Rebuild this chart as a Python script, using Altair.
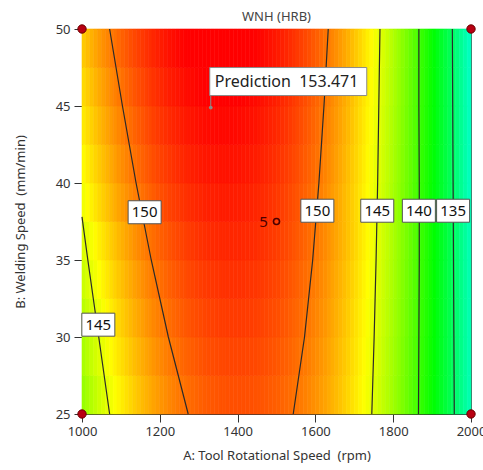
import altair as alt
import pandas as pd

# ---------------- data ----------------
# WNH (HRB) estimated on a 10 rpm x 2.5 mm/min grid (cell centres)
A_CENTERS = list(range(1005, 2000, 10))
B_ROWS = [26.25, 28.75, 31.25, 33.75, 36.25, 38.75, 41.25, 43.75, 46.25, 48.75]

WNH_R01 = [142.68, 143.10, 143.51, 143.91, 144.30, 144.67, 145.04, 145.40, 145.74, 146.08,
           146.40, 146.72, 147.02, 147.31, 147.59, 147.87, 148.13, 148.38, 148.62, 148.84,
           149.06, 149.27, 149.47, 149.65, 149.83, 149.99, 150.15, 150.29, 150.42, 150.55,
           150.66, 150.76, 150.85, 150.93, 151.00, 151.06, 151.10, 151.14, 151.17, 151.18,
           151.19, 151.18, 151.17, 151.14, 151.10, 151.06, 151.00, 150.93, 150.85, 150.76,
           150.66, 150.55, 150.42, 150.29, 150.15, 149.99, 149.83, 149.65, 149.47, 149.27,
           149.06, 148.84, 148.62, 148.38, 148.13, 147.87, 147.59, 147.31, 147.02, 146.72,
           146.40, 146.08, 145.74, 145.40, 145.04, 144.67, 144.30, 143.91, 143.51, 143.10,
           142.68, 142.25, 141.81, 141.35, 140.89, 140.42, 139.93, 139.44, 138.93, 138.42,
           137.89, 137.35, 136.80, 136.25, 135.68, 135.10, 134.51, 133.91, 133.29, 132.67]
WNH_R02 = [143.20, 143.61, 144.02, 144.41, 144.80, 145.17, 145.53, 145.88, 146.22, 146.55,
           146.87, 147.18, 147.48, 147.76, 148.04, 148.31, 148.56, 148.81, 149.04, 149.26,
           149.48, 149.68, 149.87, 150.05, 150.22, 150.38, 150.53, 150.67, 150.80, 150.91,
           151.02, 151.12, 151.20, 151.28, 151.34, 151.39, 151.43, 151.47, 151.49, 151.50,
           151.50, 151.49, 151.47, 151.43, 151.39, 151.34, 151.28, 151.20, 151.12, 151.02,
           150.91, 150.80, 150.67, 150.53, 150.38, 150.22, 150.05, 149.87, 149.68, 149.48,
           149.26, 149.04, 148.81, 148.56, 148.31, 148.04, 147.76, 147.48, 147.18, 146.87,
           146.55, 146.22, 145.88, 145.53, 145.17, 144.80, 144.41, 144.02, 143.61, 143.20,
           142.77, 142.34, 141.89, 141.43, 140.97, 140.49, 140.00, 139.50, 138.99, 138.46,
           137.93, 137.39, 136.84, 136.27, 135.70, 135.11, 134.52, 133.91, 133.29, 132.67]
WNH_R03 = [143.72, 144.13, 144.53, 144.92, 145.29, 145.66, 146.02, 146.36, 146.70, 147.02,
           147.34, 147.64, 147.93, 148.21, 148.49, 148.75, 149.00, 149.24, 149.46, 149.68,
           149.89, 150.09, 150.27, 150.45, 150.61, 150.77, 150.91, 151.04, 151.17, 151.28,
           151.38, 151.47, 151.55, 151.62, 151.68, 151.72, 151.76, 151.79, 151.80, 151.81,
           151.80, 151.79, 151.76, 151.72, 151.68, 151.62, 151.55, 151.47, 151.38, 151.28,
           151.17, 151.04, 150.91, 150.77, 150.61, 150.45, 150.27, 150.09, 149.89, 149.68,
           149.46, 149.24, 149.00, 148.75, 148.49, 148.21, 147.93, 147.64, 147.34, 147.02,
           146.70, 146.36, 146.02, 145.66, 145.29, 144.92, 144.53, 144.13, 143.72, 143.30,
           142.87, 142.43, 141.97, 141.51, 141.04, 140.55, 140.06, 139.55, 139.04, 138.51,
           137.97, 137.42, 136.87, 136.30, 135.72, 135.13, 134.53, 133.91, 133.29, 132.66]
WNH_R04 = [144.23, 144.64, 145.03, 145.42, 145.79, 146.15, 146.50, 146.84, 147.17, 147.49,
           147.80, 148.10, 148.38, 148.66, 148.93, 149.18, 149.43, 149.66, 149.88, 150.10,
           150.30, 150.49, 150.67, 150.84, 151.00, 151.15, 151.29, 151.42, 151.53, 151.64,
           151.74, 151.82, 151.90, 151.96, 152.01, 152.05, 152.09, 152.11, 152.12, 152.12,
           152.11, 152.09, 152.05, 152.01, 151.96, 151.90, 151.82, 151.74, 151.64, 151.53,
           151.42, 151.29, 151.15, 151.00, 150.84, 150.67, 150.49, 150.30, 150.10, 149.88,
           149.66, 149.43, 149.18, 148.93, 148.66, 148.38, 148.10, 147.80, 147.49, 147.17,
           146.84, 146.50, 146.15, 145.79, 145.42, 145.03, 144.64, 144.23, 143.82, 143.39,
           142.96, 142.51, 142.05, 141.59, 141.11, 140.62, 140.12, 139.61, 139.08, 138.55,
           138.01, 137.46, 136.89, 136.32, 135.73, 135.14, 134.53, 133.91, 133.29, 132.65]
WNH_R05 = [144.75, 145.15, 145.54, 145.91, 146.28, 146.64, 146.98, 147.32, 147.64, 147.96,
           148.26, 148.55, 148.83, 149.11, 149.37, 149.62, 149.86, 150.08, 150.30, 150.51,
           150.71, 150.89, 151.07, 151.23, 151.39, 151.53, 151.66, 151.79, 151.90, 152.00,
           152.09, 152.17, 152.24, 152.30, 152.34, 152.38, 152.41, 152.42, 152.43, 152.42,
           152.41, 152.38, 152.34, 152.30, 152.24, 152.17, 152.09, 152.00, 151.90, 151.79,
           151.66, 151.53, 151.39, 151.23, 151.07, 150.89, 150.71, 150.51, 150.30, 150.08,
           149.86, 149.62, 149.37, 149.11, 148.83, 148.55, 148.26, 147.96, 147.64, 147.32,
           146.98, 146.64, 146.28, 145.91, 145.54, 145.15, 144.75, 144.34, 143.92, 143.49,
           143.05, 142.59, 142.13, 141.66, 141.17, 140.68, 140.17, 139.66, 139.13, 138.59,
           138.04, 137.49, 136.92, 136.34, 135.75, 135.15, 134.53, 133.91, 133.28, 132.63]
WNH_R06 = [145.46, 145.85, 146.22, 146.59, 146.95, 147.29, 147.63, 147.95, 148.27, 148.57,
           148.86, 149.14, 149.42, 149.68, 149.93, 150.17, 150.39, 150.61, 150.82, 151.02,
           151.20, 151.38, 151.54, 151.70, 151.84, 151.97, 152.10, 152.21, 152.31, 152.40,
           152.48, 152.55, 152.61, 152.65, 152.69, 152.72, 152.73, 152.74, 152.73, 152.72,
           152.69, 152.65, 152.61, 152.55, 152.48, 152.40, 152.31, 152.21, 152.10, 151.97,
           151.84, 151.70, 151.54, 151.38, 151.20, 151.02, 150.82, 150.61, 150.39, 150.17,
           149.93, 149.68, 149.42, 149.14, 148.86, 148.57, 148.27, 147.95, 147.63, 147.29,
           146.95, 146.59, 146.22, 145.85, 145.46, 145.06, 144.65, 144.23, 143.80, 143.36,
           142.90, 142.44, 141.97, 141.48, 140.99, 140.48, 139.97, 139.44, 138.90, 138.35,
           137.80, 137.23, 136.65, 136.06, 135.46, 134.84, 134.22, 133.59, 132.94, 132.29]
WNH_R07 = [145.96, 146.35, 146.72, 147.08, 147.43, 147.77, 148.10, 148.42, 148.73, 149.03,
           149.31, 149.59, 149.86, 150.11, 150.36, 150.59, 150.81, 151.03, 151.23, 151.42,
           151.60, 151.77, 151.93, 152.08, 152.22, 152.35, 152.46, 152.57, 152.67, 152.75,
           152.83, 152.89, 152.94, 152.98, 153.02, 153.04, 153.05, 153.05, 153.04, 153.02,
           152.98, 152.94, 152.89, 152.83, 152.75, 152.67, 152.57, 152.46, 152.35, 152.22,
           152.08, 151.93, 151.77, 151.60, 151.42, 151.23, 151.03, 150.81, 150.59, 150.36,
           150.11, 149.86, 149.59, 149.31, 149.03, 148.73, 148.42, 148.10, 147.77, 147.43,
           147.08, 146.72, 146.35, 145.96, 145.57, 145.16, 144.75, 144.32, 143.89, 143.44,
           142.98, 142.52, 142.04, 141.55, 141.05, 140.54, 140.01, 139.48, 138.94, 138.39,
           137.82, 137.25, 136.66, 136.07, 135.46, 134.84, 134.22, 133.58, 132.93, 132.27]
WNH_R08 = [146.47, 146.84, 147.21, 147.57, 147.91, 148.25, 148.57, 148.89, 149.19, 149.48,
           149.76, 150.04, 150.30, 150.55, 150.79, 151.01, 151.23, 151.44, 151.64, 151.82,
           152.00, 152.16, 152.32, 152.46, 152.59, 152.72, 152.83, 152.93, 153.02, 153.10,
           153.17, 153.23, 153.27, 153.31, 153.34, 153.35, 153.36, 153.35, 153.34, 153.31,
           153.27, 153.23, 153.17, 153.10, 153.02, 152.93, 152.83, 152.72, 152.59, 152.46,
           152.32, 152.16, 152.00, 151.82, 151.64, 151.44, 151.23, 151.01, 150.79, 150.55,
           150.30, 150.04, 149.76, 149.48, 149.19, 148.89, 148.57, 148.25, 147.91, 147.57,
           147.21, 146.84, 146.47, 146.08, 145.68, 145.27, 144.85, 144.42, 143.98, 143.52,
           143.06, 142.59, 142.10, 141.61, 141.10, 140.59, 140.06, 139.52, 138.97, 138.42,
           137.85, 137.27, 136.68, 136.08, 135.46, 134.84, 134.21, 133.56, 132.91, 132.24]
WNH_R09 = [146.97, 147.34, 147.70, 148.05, 148.39, 148.72, 149.04, 149.35, 149.65, 149.93,
           150.21, 150.48, 150.73, 150.98, 151.21, 151.43, 151.65, 151.85, 152.04, 152.22,
           152.39, 152.55, 152.70, 152.84, 152.97, 153.08, 153.19, 153.29, 153.37, 153.45,
           153.51, 153.56, 153.60, 153.64, 153.66, 153.67, 153.67, 153.66, 153.64, 153.60,
           153.56, 153.51, 153.45, 153.37, 153.29, 153.19, 153.08, 152.97, 152.84, 152.70,
           152.55, 152.39, 152.22, 152.04, 151.85, 151.65, 151.43, 151.21, 150.98, 150.73,
           150.48, 150.21, 149.93, 149.65, 149.35, 149.04, 148.72, 148.39, 148.05, 147.70,
           147.34, 146.97, 146.58, 146.19, 145.78, 145.37, 144.94, 144.51, 144.06, 143.60,
           143.14, 142.66, 142.17, 141.67, 141.16, 140.63, 140.10, 139.56, 139.01, 138.44,
           137.87, 137.28, 136.69, 136.08, 135.46, 134.84, 134.20, 133.55, 132.89, 132.22]
WNH_R10 = [147.46, 147.83, 148.19, 148.53, 148.87, 149.19, 149.51, 149.81, 150.10, 150.38,
           150.66, 150.92, 151.17, 151.41, 151.63, 151.85, 152.06, 152.26, 152.44, 152.62,
           152.78, 152.94, 153.08, 153.21, 153.34, 153.45, 153.55, 153.64, 153.72, 153.79,
           153.85, 153.89, 153.93, 153.96, 153.97, 153.98, 153.97, 153.96, 153.93, 153.89,
           153.85, 153.79, 153.72, 153.64, 153.55, 153.45, 153.34, 153.21, 153.08, 152.94,
           152.78, 152.62, 152.44, 152.26, 152.06, 151.85, 151.63, 151.41, 151.17, 150.92,
           150.66, 150.38, 150.10, 149.81, 149.51, 149.19, 148.87, 148.53, 148.19, 147.83,
           147.46, 147.09, 146.70, 146.30, 145.89, 145.47, 145.04, 144.60, 144.14, 143.68,
           143.21, 142.72, 142.23, 141.72, 141.21, 140.68, 140.14, 139.59, 139.04, 138.47,
           137.89, 137.30, 136.70, 136.08, 135.46, 134.83, 134.18, 133.53, 132.86, 132.19]
WNH_ROWS = [WNH_R01, WNH_R02, WNH_R03, WNH_R04, WNH_R05,
            WNH_R06, WNH_R07, WNH_R08, WNH_R09, WNH_R10]

# contour lines (A at given B)
CONTOUR_B = [50, 45, 40, 35, 30, 25]
C150_LEFT_A = [1071, 1104, 1139, 1178, 1222, 1273]
C150_RIGHT_A = [1633, 1622, 1609, 1593, 1572, 1543]
C145_RIGHT_A = [1766, 1763, 1760, 1756, 1751, 1745]
C140_A = [1866, 1866, 1867, 1867, 1866, 1865]
C135_A = [1952, 1953, 1954, 1955, 1956, 1957]
C145_LEFT_A = [1000, 1015, 1043, 1071]
C145_LEFT_B = [37.8, 35, 30, 25]

# contour labels
LABEL_TEXT = ["150", "150", "145", "140", "135", "145"]
LABEL_A = [1161, 1605, 1759, 1866, 1954, 1042]
LABEL_B = [38.1, 38.2, 38.2, 38.2, 38.2, 30.8]

# design points
CORNER_A = [1000, 2000, 1000, 2000]
CORNER_B = [50, 50, 25, 25]
CENTER_A = [1500]
CENTER_B = [37.5]
CENTER_LABEL = ["5"]

# prediction flag
PRED_A = [1331]
PRED_B = [44.9]
PRED_TEXT = ["Prediction\u00a0 153.471"]

FONT = "Noto Sans"

# ---------------- tables ----------------
heat_rows = []
for b, vals in zip(B_ROWS, WNH_ROWS):
    for a, v in zip(A_CENTERS, vals):
        heat_rows.append({"A": a, "B": b, "WNH": v})
heat_df = pd.DataFrame(heat_rows)

line_rows = []
for cid, alist, blist in [("150L", C150_LEFT_A, CONTOUR_B), ("150R", C150_RIGHT_A, CONTOUR_B),
                          ("145R", C145_RIGHT_A, CONTOUR_B), ("140", C140_A, CONTOUR_B),
                          ("135", C135_A, CONTOUR_B), ("145L", C145_LEFT_A, C145_LEFT_B)]:
    for i, (a, b) in enumerate(zip(alist, blist)):
        line_rows.append({"id": cid, "A": a, "B": b, "o": i})
line_df = pd.DataFrame(line_rows)

label_df = pd.DataFrame({"t": LABEL_TEXT, "A": LABEL_A, "B": LABEL_B})
corner_df = pd.DataFrame({"A": CORNER_A, "B": CORNER_B})
center_df = pd.DataFrame({"A": CENTER_A, "B": CENTER_B, "t": CENTER_LABEL})
pred_df = pd.DataFrame({"A": PRED_A, "B": PRED_B, "t": PRED_TEXT})

xs = alt.Scale(domain=[1000, 2000], nice=False, zero=False)
ys = alt.Scale(domain=[25, 50], nice=False, zero=False)
x_axis = alt.Axis(values=list(range(1000, 2001, 200)), format="d", labelFlush=False,
                  title="A: Tool Rotational Speed\u00a0 (rpm)", grid=False)
y_axis = alt.Axis(values=[25, 30, 35, 40, 45, 50], format="d", labelFlush=False,
                  title="B: Welding Speed\u00a0 (mm/min)", grid=False)

X = alt.X("A:Q", scale=xs, axis=x_axis)
Y = alt.Y("B:Q", scale=ys, axis=y_axis)

cscale = alt.Scale(domain=[122.4, 130.2, 138.0, 145.8, 153.6],
                   range=["#0000ff", "#00ffff", "#00ff00", "#ffff00", "#ff0000"],
                   interpolate="rgb", clamp=True)

heat = alt.Chart(heat_df).transform_calculate(
    A0="datum.A - 5", A1="datum.A + 5", B0="datum.B - 1.25", B1="datum.B + 1.25"
).mark_rect(strokeWidth=0.6).encode(
    x=alt.X("A0:Q", scale=xs, axis=x_axis),
    x2="A1:Q",
    y=alt.Y("B0:Q", scale=ys, axis=y_axis),
    y2="B1:Q",
    fill=alt.Fill("WNH:Q", scale=cscale, legend=None),
    stroke=alt.Stroke("WNH:Q", scale=cscale, legend=None),
)

lines = alt.Chart(line_df).mark_line(color="#2a2a2a", strokeWidth=1.2).encode(
    x=X, y=Y, detail="id:N", order="o:Q")

BOX = "M-16.5,-11.5L16.5,-11.5L16.5,11.5L-16.5,11.5Z"
boxes = alt.Chart(label_df).mark_point(shape=BOX, size=4, filled=True, fill="white",
                                       stroke="#555555", strokeWidth=1, opacity=1).encode(x=X, y=Y)
texts = alt.Chart(label_df).mark_text(font=FONT, fontSize=15, color="#111111",
                                      baseline="middle", align="center").encode(x=X, y=Y, text="t:N")

corners = alt.Chart(corner_df).mark_point(shape="circle", size=70, filled=True, fill="#b80012",
                                          stroke="#6a0000", strokeWidth=1, opacity=1).encode(x=X, y=Y)
center_pt = alt.Chart(center_df).mark_point(shape="circle", size=36, filled=False,
                                            stroke="#4a0000", strokeWidth=1.6, opacity=1).encode(x=X, y=Y)
center_txt = alt.Chart(center_df).mark_text(font=FONT, fontSize=15, color="#4a0000", dx=-13,
                                            baseline="middle", align="center").encode(x=X, y=Y, text="t:N")

PRED_BOX = "M0,0L0,-12M-1,-12L156,-12L156,-40L-1,-40Z"
pred_box = alt.Chart(pred_df).mark_point(shape=PRED_BOX, size=4, filled=True, fill="white",
                                         stroke="#8a8a8a", strokeWidth=1, opacity=1).encode(x=X, y=Y)
pred_dot = alt.Chart(pred_df).mark_point(shape="circle", size=14, filled=True, fill="#8a8a8a",
                                         opacity=1).encode(x=X, y=Y)
pred_txt = alt.Chart(pred_df).mark_text(font=FONT, fontSize=16, color="#222222", dx=4, dy=-26,
                                        baseline="middle", align="left").encode(x=X, y=Y, text="t:N")

chart = alt.layer(heat, lines, boxes, texts, corners, center_pt, center_txt,
                  pred_box, pred_dot, pred_txt).properties(
    width=389, height=385,
    title=alt.TitleParams("WNH (HRB)", font=FONT, fontSize=13, fontWeight="normal",
                          color="#444444", offset=5, dy=6),
    autosize=alt.AutoSizeParams(type="none"),
    padding={"left": 82, "top": 29, "right": 12, "bottom": 56},
).configure_view(stroke="#555555", strokeWidth=1).configure_axis(
    labelFont=FONT, labelFontSize=13, labelColor="#333333",
    titleFont=FONT, titleFontSize=13, titleFontWeight="normal", titleColor="#333333",
    tickColor="#333333", domainColor="#333333", tickSize=8, labelPadding=3,
).configure_axisX(titlePadding=11).configure_axisY(titlePadding=28, labelPadding=4)

chart.save("out.html", embed_options={"renderer": "svg", "actions": False})
